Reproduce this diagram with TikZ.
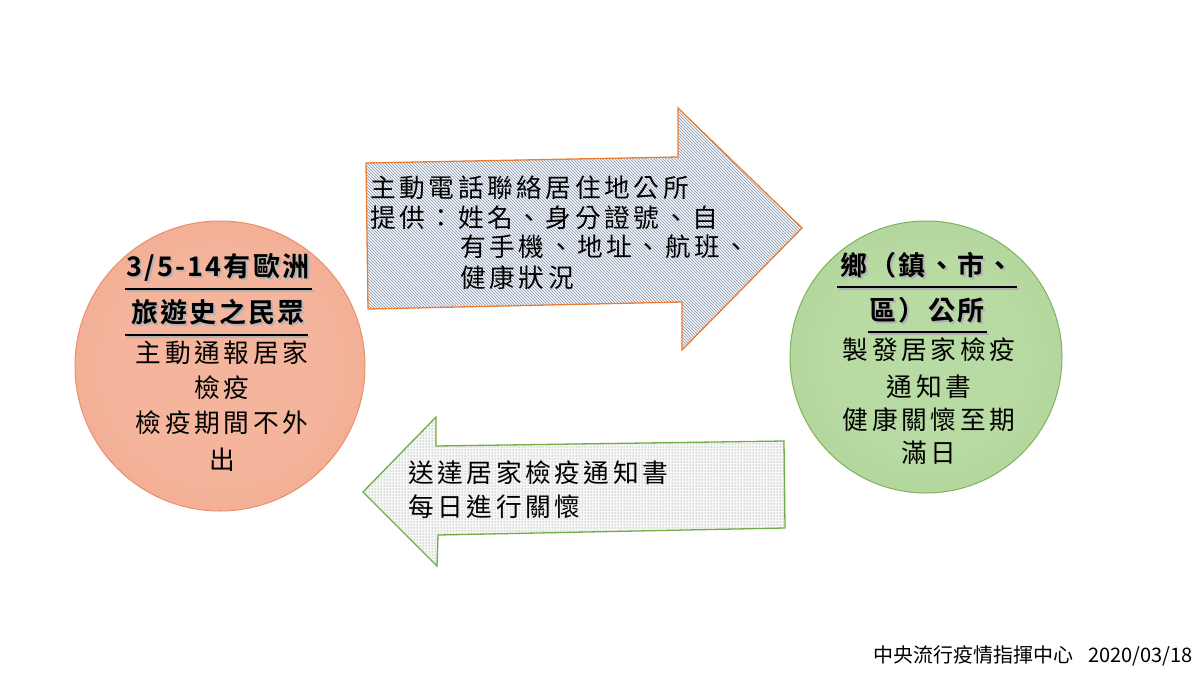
\documentclass[tikz,border=0pt]{standalone}
\usepackage{fontspec}
\usetikzlibrary{patterns}
\newfontfamily\cjk{Noto Sans CJK TC}
\newfontfamily\cjkls[LetterSpace=14]{Noto Sans CJK TC}
\newfontfamily\cjkbold[LetterSpace=8]{Noto Sans CJK TC Bold}
\definecolor{salA}{HTML}{F4B59C}
\definecolor{salB}{HTML}{EE9C7E}
\definecolor{salEdge}{HTML}{E98F6C}
\definecolor{grnA}{HTML}{B8DAA3}
\definecolor{grnB}{HTML}{9FCB86}
\definecolor{grnEdge}{HTML}{7DB35E}
\definecolor{arrOrange}{HTML}{ED7D31}
\definecolor{arrGreen}{HTML}{70AD47}
\definecolor{hatchBg}{HTML}{F2F5F9}
\definecolor{hatchFg}{HTML}{8596AB}
\definecolor{dotBg}{HTML}{F6F8F5}
\pgfdeclareradialshading{salshade}{\pgfpoint{0bp}{0bp}}{color(0bp)=(salA); color(18bp)=(salA); color(50bp)=(salB)}
\pgfdeclareradialshading{grnshade}{\pgfpoint{0bp}{0bp}}{color(0bp)=(grnA); color(18bp)=(grnA); color(50bp)=(grnB)}
\begin{document}
\begin{tikzpicture}[x=1pt,y=-1pt,
  txt/.style={inner sep=0pt, font=\cjkls\fontsize{25.7}{30}\selectfont},
  head/.style={inner sep=0pt, font=\cjkbold\fontsize{27}{32}\selectfont},
  headshadow/.style={head, text=black!30},
  uline/.style={line width=1.8pt, black},
  foot/.style={inner sep=0pt, font=\cjk\fontsize{20}{24}\selectfont}]
\path[use as bounding box, fill=white] (0,0) rectangle (1200,675);

% circles
\path[shading=salshade, draw=salEdge, line width=1pt] (220,366) circle[radius=145];
\path[shading=grnshade, draw=grnEdge, line width=1pt] (926,357) circle[radius=136];

% upper arrow
\path[fill=hatchBg] (366,163) -- (678,157) -- (678,108) -- (802,228) -- (682,350) -- (682,302) -- (368,309) -- cycle;
\path[pattern=north west lines, pattern color=hatchFg] (366,163) -- (678,157) -- (678,108) -- (802,228) -- (682,350) -- (682,302) -- (368,309) -- cycle;
\draw[arrOrange, line width=1.3pt, line join=miter] (366,163) -- (678,157) -- (678,108) -- (802,228) -- (682,350) -- (682,302) -- (368,309) -- cycle;

% lower arrow
\path[fill=dotBg] (363,492) -- (436,417) -- (436,446) -- (784,441) -- (785,528) -- (438,535) -- (437,566) -- cycle;
\path[pattern=dots, pattern color=black!55] (363,492) -- (436,417) -- (436,446) -- (784,441) -- (785,528) -- (438,535) -- (437,566) -- cycle;
\draw[arrGreen, line width=1.3pt, line join=miter] (363,492) -- (436,417) -- (436,446) -- (784,441) -- (785,528) -- (438,535) -- (437,566) -- cycle;

% upper arrow text
\node[txt, anchor=west] (u1) at (370,188) {主動電話聯絡居住地公所};
\node[txt, anchor=west] (u2) at (370,218) {提供：姓名、身分證號、自};
\node[txt, anchor=west] (u3) at (460,247) {有手機、地址、航班、};
\node[txt, anchor=west] (u4) at (460,278) {健康狀況};

% lower arrow text
\node[txt, anchor=west] (d1) at (408,473) {送達居家檢疫通知書};
\node[txt, anchor=west] (d2) at (408,507) {每日進行關懷};

% left circle text
\node[headshadow] (lh1s) at (220,269) {3/5-14有歐洲};
\node[head] (lh1) at (218,267) {3/5-14有歐洲};
\draw[black!30, line width=1.8pt] (127,291) -- (314,291);
\draw[uline] (125,289) -- (312,289);
\node[headshadow] (lh2s) at (220,314) {旅遊史之民眾};
\node[head] (lh2) at (218,312) {旅遊史之民眾};
\draw[black!30, line width=1.8pt] (127,337) -- (310,337);
\draw[uline] (125,335) -- (308,335);
\node[txt] (l1) at (222,353) {主動通報居家};
\node[txt] (l2) at (222,388) {檢疫};
\node[txt] (l3) at (222,423) {檢疫期間不外};
\node[txt] (l4) at (222,460) {出};

% right circle text
\node[headshadow] (rh1s) at (929,267) {鄉（鎮、市、};
\node[head] (rh1) at (927,265) {鄉（鎮、市、};
\draw[black!30, line width=1.8pt] (839,289) -- (1019,289);
\draw[uline] (837,287) -- (1017,287);
\node[headshadow] (rh2s) at (929,312) {區）公所};
\node[head] (rh2) at (927,310) {區）公所};
\draw[black!30, line width=1.8pt] (870,334) -- (989,334);
\draw[uline] (868,332) -- (987,332);
\node[txt] (r1) at (929,350) {製發居家檢疫};
\node[txt] (r2) at (929,387) {通知書};
\node[txt] (r3) at (929,420) {健康關懷至期};
\node[txt] (r4) at (929,453) {滿日};

% footer
\node[foot, anchor=east] (ft) at (1193,656) {中央流行疫情指揮中心\hspace{15pt}2020/03/18};
\end{tikzpicture}
\end{document}
